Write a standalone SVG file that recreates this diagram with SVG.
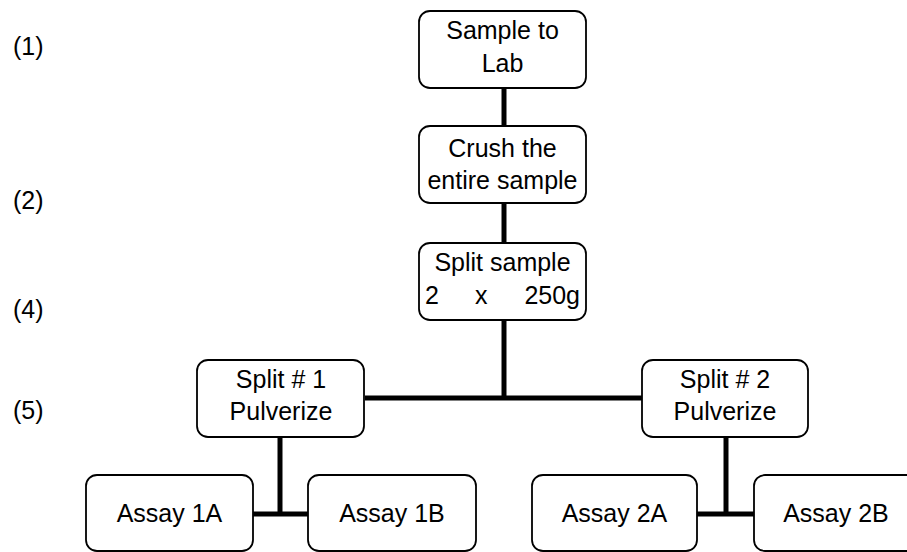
<svg xmlns="http://www.w3.org/2000/svg" width="907" height="552" viewBox="0 0 907 552">
<style>
.box{fill:#fff;stroke:#000;stroke-width:1.8}
.t{font-family:"Liberation Sans",Arial,sans-serif;font-size:25px;fill:#000}
.c{text-anchor:middle}
.conn{stroke:#000;stroke-width:5;fill:none}
</style>
<rect width="907" height="552" fill="#fff"/>
<g id="connectors">
<line class="conn" x1="504" y1="88" x2="504" y2="126"/>
<line class="conn" x1="504" y1="203" x2="504" y2="243"/>
<line class="conn" x1="504" y1="320" x2="504" y2="400"/>
<line class="conn" x1="365" y1="398" x2="642" y2="398"/>
<line class="conn" x1="280" y1="437" x2="280" y2="516"/>
<line class="conn" x1="253" y1="514" x2="308" y2="514"/>
<line class="conn" x1="726" y1="437" x2="726" y2="516"/>
<line class="conn" x1="697" y1="514" x2="754" y2="514"/>
</g>
<g id="labels" class="t">
<text x="13" y="55">(1)</text>
<text x="13" y="209">(2)</text>
<text x="13" y="318">(4)</text>
<text x="13" y="419">(5)</text>
</g>
<g id="n1">
<rect class="box" x="419" y="11" width="167" height="77" rx="11"/>
<text class="t c" x="502.5" y="39">Sample to</text>
<text class="t c" x="502.5" y="72">Lab</text>
</g>
<g id="n2">
<rect class="box" x="419" y="126" width="167" height="77" rx="11"/>
<text class="t c" x="502.5" y="157">Crush the</text>
<text class="t c" x="502.5" y="189">entire sample</text>
</g>
<g id="n3">
<rect class="box" x="419" y="243" width="167" height="77" rx="11"/>
<text class="t c" x="502.5" y="271">Split sample</text>
<text class="t" x="425" y="304">2</text>
<text class="t" x="475" y="304">x</text>
<text class="t" x="580" y="304" text-anchor="end">250g</text>
</g>
<g id="n4">
<rect class="box" x="197" y="360" width="167" height="77" rx="11"/>
<text class="t c" x="281" y="388">Split # 1</text>
<text class="t c" x="281" y="420">Pulverize</text>
</g>
<g id="n5">
<rect class="box" x="642" y="360" width="166" height="77" rx="11"/>
<text class="t c" x="725" y="388">Split # 2</text>
<text class="t c" x="725" y="420">Pulverize</text>
</g>
<g id="n6">
<rect class="box" x="86" y="475" width="167" height="76" rx="11"/>
<text class="t c" x="169.5" y="522">Assay 1A</text>
</g>
<g id="n7">
<rect class="box" x="308" y="475" width="168" height="76" rx="11"/>
<text class="t c" x="392" y="522">Assay 1B</text>
</g>
<g id="n8">
<rect class="box" x="532" y="475" width="165" height="76" rx="11"/>
<text class="t c" x="614.5" y="522">Assay 2A</text>
</g>
<g id="n9">
<rect class="box" x="754" y="475" width="166" height="76" rx="11"/>
<text class="t c" x="836" y="522">Assay 2B</text>
</g>
</svg>
